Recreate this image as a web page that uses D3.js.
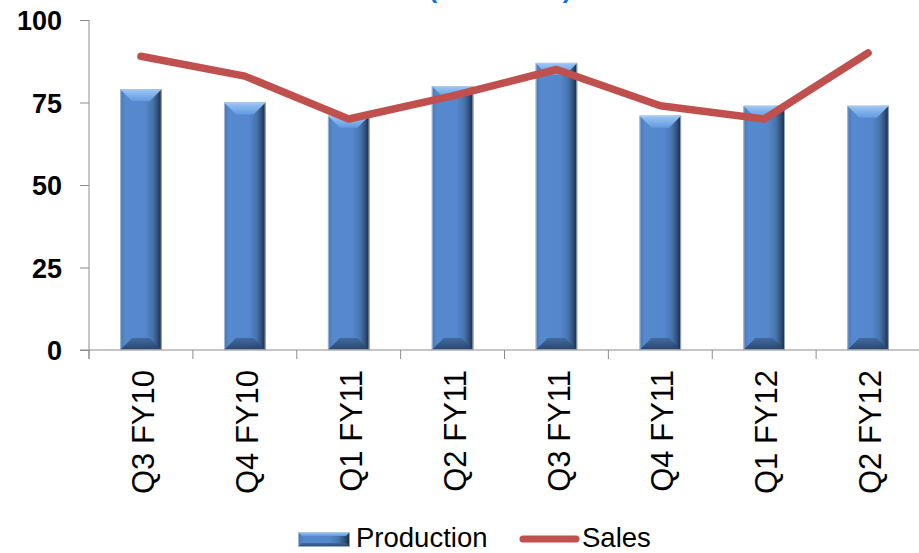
<!DOCTYPE html>
<html>
<head>
<meta charset="utf-8">
<script src="https://cdn.jsdelivr.net/npm/d3@7/dist/d3.min.js"></script>
<style>
  html, body { margin: 0; padding: 0; background: #fff; }
  svg { display: block; font-family: "Liberation Sans", Arial, sans-serif; }
</style>
</head>
<body>
<svg id="chart" width="919" height="553"></svg>
<script>
// Quarterly production vs. sales
const categories = ["Q3 FY10", "Q4 FY10", "Q1 FY11", "Q2 FY11", "Q3 FY11", "Q4 FY11", "Q1 FY12", "Q2 FY12"];
const production = [79, 75, 71, 80, 87, 71, 74, 74];
const sales = [89, 83, 70, 77, 85, 74, 70, 90];
const yTicks = [0, 25, 50, 75, 100];
const seriesNames = ["Production", "Sales"];
const titleText = "(in Tonnes)";

const svg = d3.select("#chart");
const W = 919, H = 553;
const plot = { left: 89, right: 920, top: 20, bottom: 350 };

const x = d3.scaleBand()
  .domain(categories)
  .range([plot.left, plot.right])
  .paddingInner(0.6)
  .paddingOuter(0.3);
const step = x.step();
const y = d3.scaleLinear().domain([0, 100]).range([plot.bottom, plot.top]);

const axisColor = "#8c8c8c";
const lineColor = "#C0504D";

// gradients for the bevelled bars
const defs = svg.append("defs");
const body = defs.append("linearGradient").attr("id", "barBody").attr("x1", 0).attr("x2", 1).attr("y1", 0).attr("y2", 0);
[["0%", "#4676b6"], ["12%", "#5689cd"], ["60%", "#5487cb"], ["78%", "#4874ad"], ["90%", "#30507b"], ["100%", "#16263b"]]
  .forEach(([o, c]) => body.append("stop").attr("offset", o).attr("stop-color", c));
const topG = defs.append("linearGradient").attr("id", "barTop").attr("x1", 0).attr("x2", 0).attr("y1", 0).attr("y2", 1);
[["0%", "#9cc7f7"], ["100%", "#6299df"]]
  .forEach(([o, c]) => topG.append("stop").attr("offset", o).attr("stop-color", c));
const botG = defs.append("linearGradient").attr("id", "barBottom").attr("x1", 0).attr("x2", 0).attr("y1", 0).attr("y2", 1);
[["0%", "#3f679c"], ["100%", "#243f63"]]
  .forEach(([o, c]) => botG.append("stop").attr("offset", o).attr("stop-color", c));

function bevelBar(g, x0, y0, w, h, b) {
  const x1 = x0 + w, y1 = y0 + h;
  g.append("rect").attr("x", x0).attr("y", y0).attr("width", w).attr("height", h)
    .attr("fill", "url(#barBody)");
  g.append("polygon")
    .attr("points", [[x0, y0], [x1, y0], [x1 - b, y0 + b], [x0 + b, y0 + b]].map(p => p.join(",")).join(" "))
    .attr("fill", "url(#barTop)");
  g.append("polygon")
    .attr("points", [[x0, y1], [x1, y1], [x1 - b, y1 - b], [x0 + b, y1 - b]].map(p => p.join(",")).join(" "))
    .attr("fill", "url(#barBottom)").attr("opacity", 0.9);
  g.append("rect").attr("x", x0 + 0.5).attr("y", y0 + 0.5).attr("width", w - 1).attr("height", h - 1)
    .attr("fill", "none").attr("stroke", "#b7c8dc").attr("stroke-width", 1).attr("opacity", 0.8);
}

// title (sits mostly above the visible area)
svg.append("text")
  .attr("x", 500).attr("y", -3)
  .attr("text-anchor", "middle")
  .attr("font-size", 27).attr("font-weight", "bold")
  .attr("fill", "#0a7ad6")
  .text(titleText);

// y axis
const yAxis = d3.axisLeft(y).tickValues(yTicks).tickSize(9).tickPadding(18);
const gy = svg.append("g").attr("transform", `translate(${plot.left},0)`).call(yAxis);
gy.select(".domain").remove();
gy.selectAll(".tick line").attr("stroke", axisColor);
gy.selectAll(".tick text")
  .attr("font-family", "'Liberation Sans', Arial, sans-serif")
  .attr("font-size", 27).attr("font-weight", "bold").attr("fill", "#000")
  .attr("dy", "0.36em");
svg.append("line")
  .attr("x1", plot.left).attr("x2", plot.left)
  .attr("y1", y(100)).attr("y2", plot.bottom + 9)
  .attr("stroke", axisColor);

// bars
const bars = svg.append("g");
production.forEach((v, i) => {
  const x0 = x(categories[i]);
  const y0 = y(v);
  bevelBar(bars, x0, y0, x.bandwidth(), y(0) - y0, 12);
});

// x axis
const gx = svg.append("g");
gx.append("line")
  .attr("x1", plot.left - 9).attr("x2", W)
  .attr("y1", y(0)).attr("y2", y(0))
  .attr("stroke", axisColor);
categories.forEach((c, i) => {
  const edge = i === 0 ? plot.left : x(c) - (step - x.bandwidth()) / 2;
  gx.append("line")
    .attr("x1", edge).attr("x2", edge)
    .attr("y1", y(0)).attr("y2", y(0) + 9)
    .attr("stroke", axisColor);
  const cx = x(c) + x.bandwidth() / 2;
  gx.append("text")
    .attr("transform", `translate(${cx + 2},${y(0) + 20}) rotate(-90)`)
    .attr("text-anchor", "end")
    .attr("dy", "0.36em")
    .attr("font-size", 31)
    .attr("fill", "#000")
    .text(c);
});

// sales line
const line = d3.line()
  .x((d, i) => x(categories[i]) + x.bandwidth() / 2)
  .y(d => y(d));
svg.append("path")
  .datum(sales)
  .attr("d", line)
  .attr("fill", "none")
  .attr("stroke", lineColor)
  .attr("stroke-width", 7.5)
  .attr("stroke-linecap", "round")
  .attr("stroke-linejoin", "round");

// legend
const lg = svg.append("g");
const legendY = 539;
bevelBar(lg, 298, legendY - 7, 52, 15, 4);
lg.append("text").attr("x", 356).attr("y", legendY + 8)
  .attr("font-size", 27.5).attr("fill", "#000").text(seriesNames[0]);
lg.append("line").attr("x1", 523).attr("x2", 576).attr("y1", legendY).attr("y2", legendY)
  .attr("stroke", lineColor).attr("stroke-width", 7).attr("stroke-linecap", "round");
lg.append("text").attr("x", 582).attr("y", legendY + 8)
  .attr("font-size", 27.5).attr("fill", "#000").text(seriesNames[1]);
</script>
</body>
</html>
